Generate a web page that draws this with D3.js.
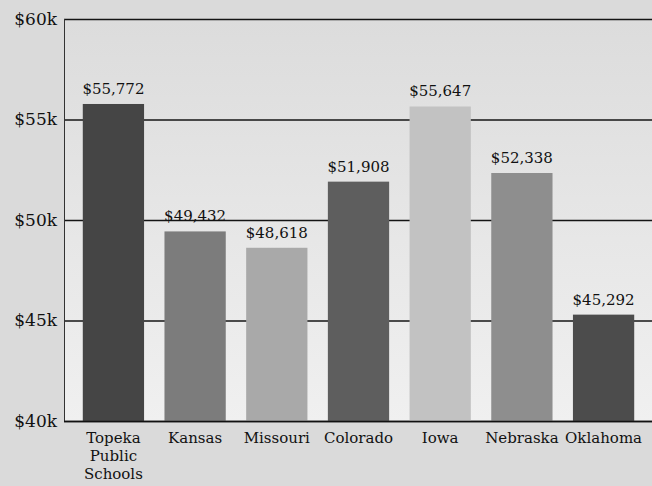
<!DOCTYPE html>
<html>
<head>
<meta charset="utf-8">
<script src="https://cdn.jsdelivr.net/npm/d3@7/dist/d3.min.js"></script>
<style>
  html, body { margin: 0; padding: 0; background: #dadada; }
  svg { display: block; }
</style>
</head>
<body>
<svg id="chart" width="652" height="486"></svg>
<script>
// Average teacher salary, Topeka Public Schools vs. neighbouring states
const categories = ["Topeka Public Schools", "Kansas", "Missouri", "Colorado", "Iowa", "Nebraska", "Oklahoma"];
const salaries = [55772, 49432, 48618, 51908, 55647, 52338, 45292];
const barColors = ["#454545", "#7c7c7c", "#a9a9a9", "#5e5e5e", "#c2c2c2", "#8e8e8e", "#4c4c4c"];
const yTicks = [40000, 45000, 50000, 55000, 60000];
const yTickLabels = ["$40k", "$45k", "$50k", "$55k", "$60k"];

const W = 652, H = 486;
const plot = { left: 64, right: 653, top: 19, bottom: 421 };
const serif = "'DejaVu Serif', 'Liberation Serif', serif";

const svg = d3.select("#chart");

// page background
svg.append("rect").attr("width", W).attr("height", H).attr("fill", "#dadada");

// plot area, lighter toward the baseline
const defs = svg.append("defs");
const grad = defs.append("linearGradient").attr("id", "plotBg")
  .attr("x1", 0).attr("y1", 0).attr("x2", 0).attr("y2", 1);
grad.append("stop").attr("offset", "0%").attr("stop-color", "#dcdcdc");
grad.append("stop").attr("offset", "100%").attr("stop-color", "#f0f0f0");

const x = d3.scaleBand()
  .domain(categories)
  .range([plot.left, plot.right])
  .paddingInner(0.25)
  .paddingOuter(0.23);

const y = d3.scaleLinear()
  .domain([40000, 60000])
  .range([plot.bottom, plot.top]);

svg.append("rect")
  .attr("x", plot.left).attr("y", plot.top)
  .attr("width", W - plot.left).attr("height", plot.bottom - plot.top)
  .attr("fill", "url(#plotBg)");

// horizontal gridlines + y tick labels
const yAxis = d3.axisLeft(y)
  .tickValues(yTicks)
  .tickFormat((d, i) => yTickLabels[i])
  .tickSize(-(W - plot.left))
  .tickPadding(7);

const gy = svg.append("g")
  .attr("transform", `translate(${plot.left},0)`)
  .call(yAxis);
gy.select(".domain").remove();
gy.selectAll(".tick line")
  .attr("stroke", "#141414")
  .attr("stroke-width", 1.5);
gy.selectAll(".tick text")
  .attr("fill", "#111")
  .style("font-family", serif)
  .style("font-size", "17px");

// bars
svg.append("g").selectAll("rect")
  .data(categories)
  .join("rect")
  .attr("x", d => x(d))
  .attr("y", (d, i) => y(salaries[i]))
  .attr("width", x.bandwidth())
  .attr("height", (d, i) => y(40000) - y(salaries[i]))
  .attr("fill", (d, i) => barColors[i]);

// value labels
const fmt = d3.format("$,");
svg.append("g").selectAll("text")
  .data(categories)
  .join("text")
  .attr("x", d => x(d) + x.bandwidth() / 2)
  .attr("y", (d, i) => y(salaries[i]) - 10)
  .attr("text-anchor", "middle")
  .attr("fill", "#111")
  .style("font-family", serif)
  .style("font-size", "15px")
  .text((d, i) => fmt(salaries[i]));

// left axis line
svg.append("line")
  .attr("x1", plot.left + 0.5).attr("x2", plot.left + 0.5)
  .attr("y1", y(60000)).attr("y2", y(40000))
  .attr("stroke", "#333").attr("stroke-width", 1);

// x axis with wrapped category labels
const xAxis = d3.axisBottom(x).tickSize(0).tickPadding(11);
const gx = svg.append("g")
  .attr("transform", `translate(0,${plot.bottom})`)
  .call(xAxis);
gx.select(".domain")
  .attr("d", `M${plot.left},0.5H${W}`)
  .attr("stroke", "#111")
  .attr("stroke-width", 1.5);
gx.selectAll(".tick text")
  .attr("fill", "#111")
  .style("font-family", serif)
  .style("font-size", "15px")
  .call(wrap, x.step() - 4);

function wrap(sel, width) {
  sel.each(function () {
    const text = d3.select(this);
    const words = text.text().split(/\s+/);
    const y0 = text.attr("y");
    const dy0 = parseFloat(text.attr("dy")) || 0;
    text.text(null);
    let line = [];
    let lineNo = 0;
    let tspan = text.append("tspan").attr("x", 0).attr("y", y0).attr("dy", dy0 + "em");
    for (const w of words) {
      line.push(w);
      tspan.text(line.join(" "));
      if (tspan.node().getComputedTextLength() > width && line.length > 1) {
        line.pop();
        tspan.text(line.join(" "));
        line = [w];
        lineNo++;
        tspan = text.append("tspan").attr("x", 0).attr("y", y0)
          .attr("dy", (dy0 + lineNo * 1.2) + "em").text(w);
      }
    }
  });
}
</script>
</body>
</html>
